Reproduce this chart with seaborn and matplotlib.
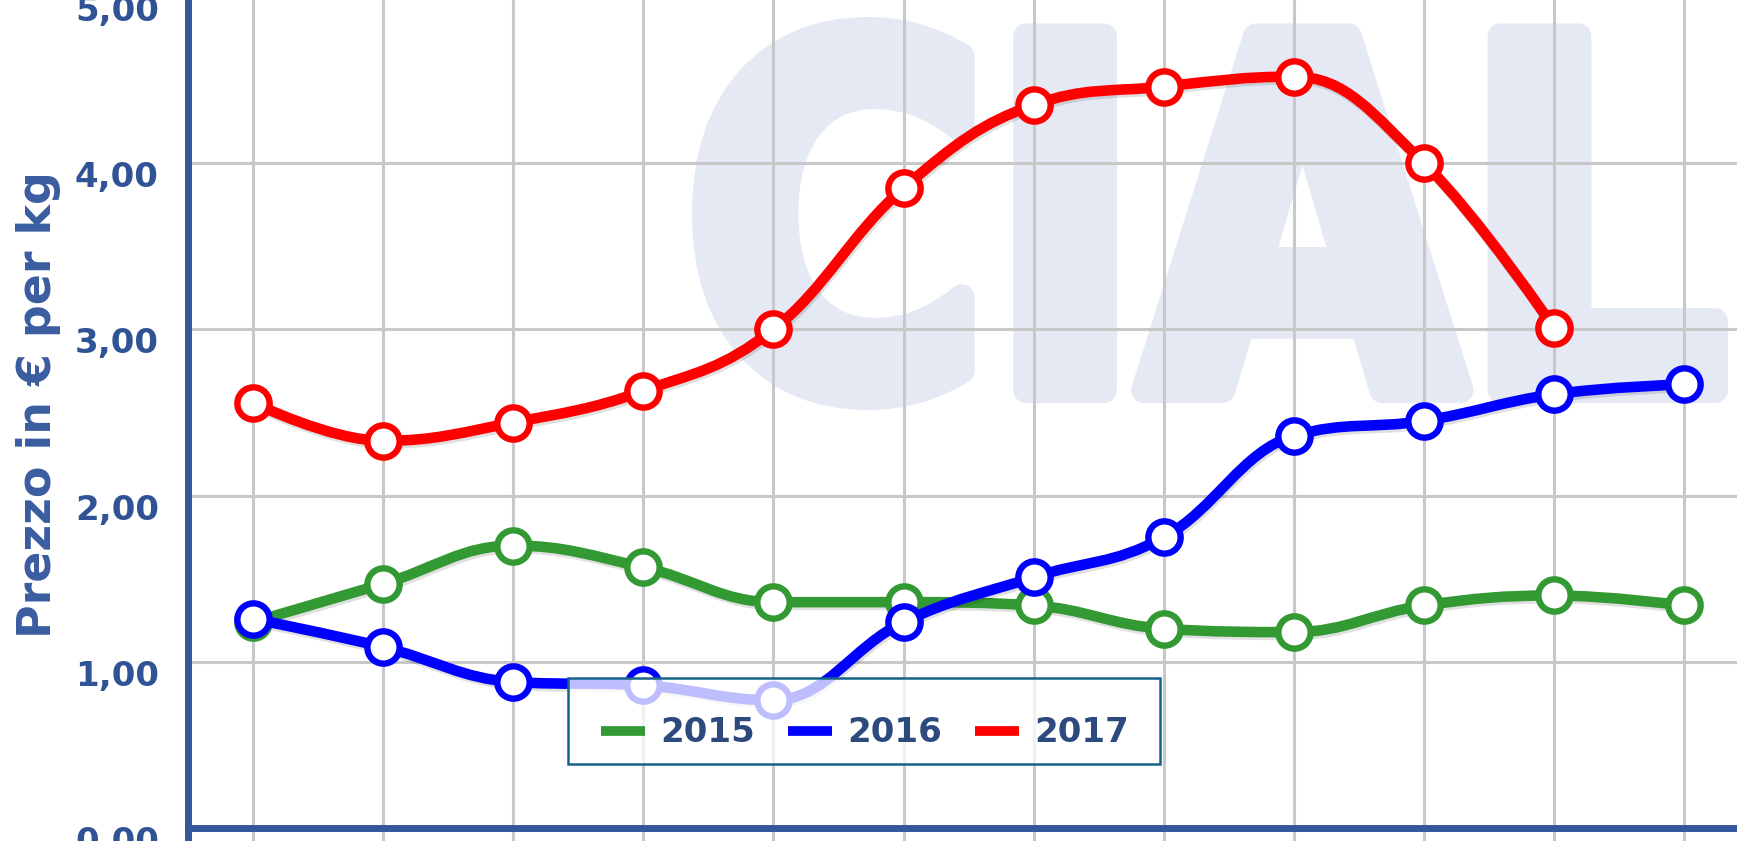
import numpy as np
import pandas as pd
import matplotlib
matplotlib.use("Agg")
import matplotlib.pyplot as plt
import seaborn as sns
from matplotlib.path import Path
from matplotlib.patches import PathPatch, Rectangle
from matplotlib.textpath import TextPath
from matplotlib.font_manager import FontProperties
from matplotlib.lines import Line2D
from matplotlib.transforms import Affine2D, ScaledTranslation
import matplotlib.patheffects as pe

# dati (prezzo in euro per kg, 12 rilevazioni)
mesi = list(range(12))
prezzi_2015 = [1.24, 1.47, 1.70, 1.57, 1.36, 1.36, 1.34, 1.20, 1.18, 1.34, 1.40, 1.34]
prezzi_2016 = [1.26, 1.09, 0.88, 0.86, 0.77, 1.24, 1.51, 1.75, 2.36, 2.45, 2.61, 2.67]
prezzi_2017 = [2.56, 2.33, 2.44, 2.63, 3.00, 3.85, 4.35, 4.46, 4.52, 4.00, 3.01]
anni = ["2015", "2016", "2017"]
colori = ["#339933", "#0000ff", "#ff0000"]
y_ticks = [0, 1, 2, 3, 4, 5]
y_labels = ["0,00", "1,00", "2,00", "3,00", "4,00", "5,00"]

serie = [prezzi_2015, prezzi_2016, prezzi_2017]
df = pd.concat([pd.DataFrame({"mese": mesi[:len(v)], "prezzo": v, "anno": a})
                for a, v in zip(anni, serie)], ignore_index=True)

blu_asse = "#34589b"
blu_testo = "#2f5394"

sns.set_style("white")
plt.rcParams["font.family"] = ["DejaVu Sans"]
plt.rcParams["font.weight"] = "bold"


def spline_path(xs, ys, smoothing=1.5):
    # curva tipo highcharts "spline": bezier cubiche tra i punti
    n = len(xs)
    den = smoothing + 1
    left = [None] * n
    right = [None] * n
    for i in range(n):
        px, py = xs[i], ys[i]
        if i == 0 or i == n - 1:
            left[i] = right[i] = (px, py)
            continue
        lx, ly = xs[i - 1], ys[i - 1]
        nx, ny = xs[i + 1], ys[i + 1]
        lcx, lcy = (smoothing * px + lx) / den, (smoothing * py + ly) / den
        rcx, rcy = (smoothing * px + nx) / den, (smoothing * py + ny) / den
        if rcx != lcx:
            corr = ((rcy - lcy) * (rcx - px)) / (rcx - lcx) + py - rcy
            lcy += corr
            rcy += corr
        if lcy > ly and lcy > py:
            lcy = max(ly, py); rcy = 2 * py - lcy
        elif lcy < ly and lcy < py:
            lcy = min(ly, py); rcy = 2 * py - lcy
        if rcy > ny and rcy > py:
            rcy = max(ny, py); lcy = 2 * py - rcy
        elif rcy < ny and rcy < py:
            rcy = min(ny, py); lcy = 2 * py - rcy
        left[i] = (lcx, lcy)
        right[i] = (rcx, rcy)
    verts = [(xs[0], ys[0])]
    codes = [Path.MOVETO]
    for i in range(1, n):
        verts += [right[i - 1], left[i], (xs[i], ys[i])]
        codes += [Path.CURVE4] * 3
    return Path(verts, codes)


W, H = 1737, 841
fig = plt.figure(figsize=(W / 100, H / 100), dpi=100)
px_x = 130.1
px_y = 166.3
x0, x1 = -0.5, 11.6
y0, y1 = -0.1, 5.1
ax = fig.add_axes([188 / W, (12.7 + y0 * px_y) / H, (x1 - x0) * px_x / W, (y1 - y0) * px_y / H])
ax.set_xlim(x0, x1)
ax.set_ylim(y0, y1)
ax.set_facecolor("white")

# logo CIAL sullo sfondo (lettere pesanti e arrotondate)
tp = TextPath((0, 0), "CIAL", size=1, prop=FontProperties(family="DejaVu Sans", weight="bold"))
ext = tp.get_extents()
inset = 13
bx0, bx1, by0, by1 = 692 + inset, 1728 - inset, H - 410 + inset, H - 17 - inset
tr = (Affine2D().translate(-ext.x0, -ext.y0)
      .scale((bx1 - bx0) / ext.width / 100, (by1 - by0) / ext.height / 100)
      .translate(bx0 / 100, by0 / 100) + fig.dpi_scale_trans)
ax.add_patch(PathPatch(tp, transform=tr, facecolor="#e4e9f4", edgecolor="#e4e9f4",
                       linewidth=2 * inset * 0.72, joinstyle="round", zorder=0.2, clip_on=False))

ax.set_axisbelow(True)
ax.grid(True, color="#c8c8c8", linewidth=2.2)
ax.set_xticks(mesi)
ax.set_xticklabels([])
ax.set_yticks(y_ticks)
ax.set_yticklabels(y_labels)
ax.tick_params(axis="x", direction="out", length=14, width=2.2, color="#c8c8c8")
ax.tick_params(axis="y", length=0, pad=21, labelsize=24.5, labelcolor=blu_testo)
for lab in ax.get_yticklabels():
    lab.set_fontweight("bold")
    lab.set_transform(lab.get_transform() + ScaledTranslation(0, -11 / 100, fig.dpi_scale_trans))

for s in ["top", "right"]:
    ax.spines[s].set_visible(False)
ax.spines["bottom"].set_position(("data", 0))
for s in ["left", "bottom"]:
    ax.spines[s].set_color(blu_asse)
    ax.spines[s].set_linewidth(5)
    ax.spines[s].set_zorder(20)

for i, (anno, col) in enumerate(zip(anni, colori)):
    d = df[df["anno"] == anno]
    patch = PathPatch(spline_path(d["mese"].tolist(), d["prezzo"].tolist()),
                      facecolor="none", edgecolor=col, linewidth=7.6,
                      capstyle="round", joinstyle="round", zorder=3 + 2 * i)
    patch.set_path_effects([pe.SimpleLineShadow(offset=(1, -2), shadow_color="k", alpha=0.12),
                            pe.Normal()])
    ax.add_patch(patch)
    sns.scatterplot(data=d, x="mese", y="prezzo", ax=ax, s=540, color="white",
                    edgecolor=col, linewidth=4.6, legend=False, zorder=4 + 2 * i)

ax.set_xlabel("")
ax.set_ylabel("")
fig.text(39 / W, 436 / H, "Prezzo in € per kg", rotation=90, ha="center", va="center",
         fontsize=33, fontweight="bold", color="#3a5da0")

# riquadro della legenda (bianco semitrasparente)
ax.add_patch(Rectangle((568 / W, 1 - 764 / H), (1160 - 568) / W, (764 - 678) / H,
                       transform=fig.transFigure, facecolor=(1, 1, 1, 0.75),
                       edgecolor="#17628a", linewidth=1.8, zorder=29, clip_on=False))
handles = [Line2D([], [], color=c, linewidth=7, solid_capstyle="butt") for c in colori]
leg = ax.legend(handles, anni, loc="center", bbox_to_anchor=(865 / W, 1 - 733 / H),
                bbox_transform=fig.transFigure, ncol=3, fontsize=24.5, frameon=False,
                handlelength=1.3, handletextpad=0.45, columnspacing=0.95,
                borderpad=0.0)
leg.set_zorder(30)
for t in leg.get_texts():
    t.set_color("#2c4a7e")
    t.set_fontweight("bold")

fig.savefig("out.png", dpi=100)
